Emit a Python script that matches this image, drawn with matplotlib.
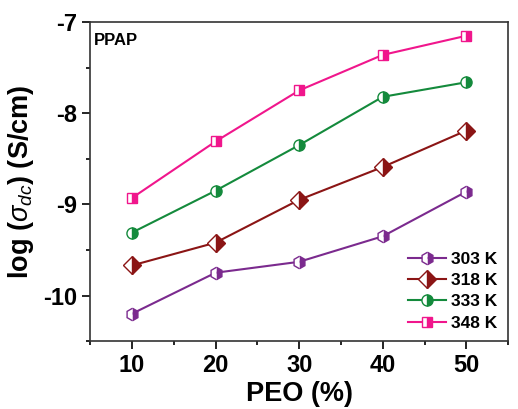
import matplotlib
matplotlib.use("Agg")
import matplotlib.pyplot as plt
from matplotlib.ticker import MultipleLocator

plt.rcParams['font.family'] = ['Liberation Sans', 'DejaVu Sans']
plt.rcParams['font.weight'] = 'bold'
plt.rcParams['axes.unicode_minus'] = False
plt.rcParams['mathtext.fontset'] = 'custom'
plt.rcParams['mathtext.it'] = 'Liberation Sans:style=italic:weight=normal'
plt.rcParams['mathtext.rm'] = 'Liberation Sans:weight=normal'

peo = [10, 20, 30, 40, 50]
temps = ['303 K', '318 K', '333 K', '348 K']
sig_303 = [-10.20, -9.75, -9.63, -9.35, -8.86]
sig_318 = [-9.67, -9.42, -8.95, -8.59, -8.19]
sig_333 = [-9.31, -8.85, -8.35, -7.82, -7.66]
sig_348 = [-8.93, -8.31, -7.75, -7.36, -7.15]

series = [sig_303, sig_318, sig_333, sig_348]
colors = ['#7b2a8e', '#8b1515', '#148a3c', '#f0168c']
markers = ['h', 'D', 'o', 's']
sizes = [9, 9, 8, 7]

fig = plt.figure(figsize=(5.18, 4.09), dpi=100)
ax = fig.add_axes([0.174, 0.166, 0.807, 0.780])

for y, c, m, s, lab in zip(series, colors, markers, sizes, temps):
    ax.plot(peo, y, color=c, lw=1.5, marker=m, ms=s, fillstyle='right',
            markerfacecolor=c, markerfacecoloralt='white', markeredgecolor=c,
            markeredgewidth=1.0, label=lab)

ax.set_xlim(5, 55)
ax.set_ylim(-10.5, -7)
ax.xaxis.set_major_locator(MultipleLocator(10))
ax.xaxis.set_minor_locator(MultipleLocator(5))
ax.yaxis.set_major_locator(MultipleLocator(1))
ax.yaxis.set_minor_locator(MultipleLocator(0.5))
ax.tick_params(which='major', direction='out', length=6, width=1.2, labelsize=17)
ax.tick_params(which='minor', direction='out', length=3, width=1.2)
for sp in ax.spines.values():
    sp.set_linewidth(1.2)
    sp.set_color('#333333')

ax.set_xlabel('PEO (%)', fontsize=19.5, fontweight='bold', labelpad=3)
ax.set_ylabel(r'log ($\sigma_{dc}$) (S/cm)', fontsize=19.5, fontweight='bold', labelpad=5)
ax.text(0.01, 0.965, 'PPAP', transform=ax.transAxes, fontsize=12,
        fontweight='bold', va='top', ha='left')

leg = ax.legend(loc='lower right', frameon=False, fontsize=12.5, handlelength=2.2,
                handletextpad=0.3, labelspacing=0.35, borderaxespad=0.2)

fig.savefig('out.png', dpi=100)
